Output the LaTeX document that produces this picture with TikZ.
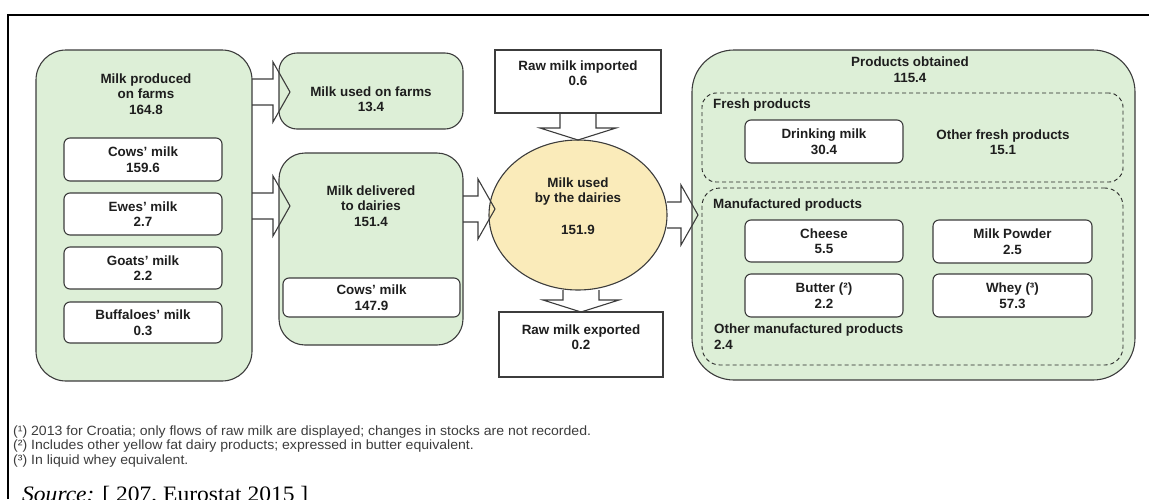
\documentclass[tikz,border=0pt]{standalone}
\usepackage{fontspec}
\setmainfont{Liberation Sans}
\newfontfamily\notefont{Liberation Sans}[FakeStretch=1.05]
\newfontfamily\sourcefont{Liberation Serif}[FakeStretch=1.07]
\usetikzlibrary{positioning,calc,shapes.geometric}
\definecolor{FarmGreen}{RGB}{221,239,215}
\definecolor{DairyYellow}{RGB}{250,235,186}
\definecolor{EdgeGray}{RGB}{60,60,60}
\definecolor{TextDark}{RGB}{30,30,30}
\definecolor{NoteGray}{RGB}{60,60,60}
\tikzset{
  fatflow/.style={draw=EdgeGray,line width=1.1pt,line join=miter},
  frame/.style={draw=black,line width=2pt},
  groupbox/.style={draw=EdgeGray,fill=FarmGreen,line width=1.1pt,inner sep=0pt,outer sep=0pt},
  itembox/.style={draw=EdgeGray,fill=white,rounded corners=6pt,line width=1.1pt,inner sep=0pt,outer sep=0pt},
  flatbox/.style={draw=EdgeGray,fill=white,line width=1.1pt,inner sep=0pt,outer sep=0pt},
  dashgroup/.style={draw=black!85,dash pattern=on 4pt off 3pt,line width=0.9pt,inner sep=0pt,outer sep=0pt},
  txt/.style={text=TextDark,font=\fontsize{13.4}{15.5}\selectfont\bfseries,align=center,inner sep=0pt},
  note/.style={text=NoteGray,font=\notefont\fontsize{13.4}{14.5}\selectfont,inner sep=0pt,anchor=base west}
}
% horizontal block arrow: tail node, tip coordinate
\newcommand{\harrow}[2]{%
  \draw[fatflow] ($(#1|-#2)+(0,-13)$) -- ($(#2)+(-17,-13)$) -- ($(#2)+(-17,-30)$) -- (#2)
    -- ($(#2)+(-17,30)$) -- ($(#2)+(-17,13)$) -- ($(#1|-#2)+(0,13)$);}
% vertical block arrow: tail node, tip coordinate
\newcommand{\varrow}[2]{%
  \draw[fatflow] ($(#1-|#2)+(-18,0)$) -- ($(#2)+(-18,-12)$) -- ($(#2)+(-38,-12)$) -- (#2)
    -- ($(#2)+(38,-12)$) -- ($(#2)+(18,-12)$) -- ($(#1-|#2)+(18,0)$);}

\begin{document}
\begin{tikzpicture}[x=1pt,y=-1pt]
  \clip (0,0) rectangle (1149,499);
  \draw[frame] (8,499) -- (8,15) -- (1149,15);

  % milk on farms
  \node[groupbox,rounded corners=30pt,minimum width=216pt,minimum height=331pt] (produced) at (144,215.5) {};
  \node[txt] (producedtxt) at (146,94) {Milk produced\\on farms\\164.8};
  \node[itembox,txt,minimum width=158pt,minimum height=43pt] (cows) at (143,159.5) {Cows' milk\\159.6};
  \node[itembox,txt,minimum width=158pt,minimum height=42pt] (ewes) at (143,214) {Ewes' milk\\2.7};
  \node[itembox,txt,minimum width=158pt,minimum height=42pt] (goats) at (143,268) {Goats' milk\\2.2};
  \node[itembox,txt,minimum width=158pt,minimum height=41pt] (buffaloes) at (143,322.5) {Buffaloes' milk\\0.3};

  \node[groupbox,rounded corners=18pt,minimum width=184pt,minimum height=76pt] (used) at (371,91) {};
  \node[txt] (usedtxt) at (371,99) {Milk used on farms\\13.4};
  \node[groupbox,rounded corners=26pt,minimum width=184pt,minimum height=192pt] (delivered) at (371,249) {};
  \node[txt] (deliveredtxt) at (371,206) {Milk delivered\\to dairies\\151.4};
  \node[itembox,txt,minimum width=177pt,minimum height=39pt] (delivcows) at (371.5,297.5) {Cows' milk\\147.9};

  % dairies
  \node[ellipse,draw=EdgeGray,fill=DairyYellow,line width=1.1pt,inner sep=0pt,outer sep=0pt,
    minimum width=178pt,minimum height=150pt] (dairy) at (578,215) {};
  \node[txt] (dairytxt) at (578,206) {Milk used\\by the dairies\\[16pt]151.9};
  \node[flatbox,minimum width=166pt,minimum height=63pt] (imported) at (578,81.5) {};
  \node[txt] (importedtxt) at (578,73) {Raw milk imported\\0.6};
  \node[flatbox,minimum width=164pt,minimum height=65pt] (exported) at (581,344.5) {};
  \node[txt] (exportedtxt) at (581,337) {Raw milk exported\\0.2};

  % products
  \node[groupbox,rounded corners=42pt,minimum width=443pt,minimum height=330pt] (products) at (913.5,215) {};
  \node[txt] (productstxt) at (910,69.5) {Products obtained\\115.4};
  \node[dashgroup,rounded corners=14pt,minimum width=421pt,minimum height=89pt] (fresh) at (912.5,137.5) {};
  \node[txt,anchor=west] (freshtxt) at (713,105) {Fresh products};
  \node[itembox,txt,minimum width=158pt,minimum height=43pt] (drinking) at (824,141.5) {Drinking milk\\30.4};
  \node[txt] (otherfresh) at (1003,142) {Other fresh products\\15.1};
  \node[dashgroup,rounded corners=18pt,minimum width=421pt,minimum height=177pt] (manuf) at (912.5,276.5) {};
  \node[txt,anchor=west] (manuftxt) at (713,205) {Manufactured products};
  \node[itembox,txt,minimum width=158pt,minimum height=42pt] (cheese) at (824,241) {Cheese\\5.5};
  \node[itembox,txt,minimum width=159pt,minimum height=43pt] (powder) at (1012.5,241.5) {Milk Powder\\2.5};
  \node[itembox,txt,minimum width=158pt,minimum height=43pt] (butter) at (824,295.5) {Butter (²)\\2.2};
  \node[itembox,txt,minimum width=159pt,minimum height=43pt] (whey) at (1012.5,295.5) {Whey (³)\\57.3};
  \node[txt,anchor=west,align=left] (othermanuf) at (714,336.5) {Other manufactured products\\2.4};

  % flows
  \coordinate (tipused) at ($(used.west)+(11,1)$);
  \coordinate (tipdeliv) at ($(delivered.west)+(11,-43)$);
  \coordinate (tipdairy) at ($(dairy.west)+(6,-6)$);
  \coordinate (tipproducts) at ($(products.west)+(6,0)$);
  \harrow{produced.east}{tipused}
  \harrow{produced.east}{tipdeliv}
  \harrow{delivered.east}{tipdairy}
  \harrow{dairy.east}{tipproducts}
  \varrow{imported.south}{dairy.north}
  \varrow{dairy.south}{exported.north}

  % notes
  \node[note] (note1) at (13,435) {(¹) 2013 for Croatia; only flows of raw milk are displayed; changes in stocks are not recorded.};
  \node[note] (note2) at (13,449.5) {(²) Includes other yellow fat dairy products; expressed in butter equivalent.};
  \node[note] (note3) at (13,464) {(³) In liquid whey equivalent.};
  \node[anchor=base west,inner sep=0pt,font=\sourcefont\fontsize{22}{24}\selectfont] (source) at (22,501) {\textit{Source:} [ 207, Eurostat 2015 ]};
\end{tikzpicture}
\end{document}
